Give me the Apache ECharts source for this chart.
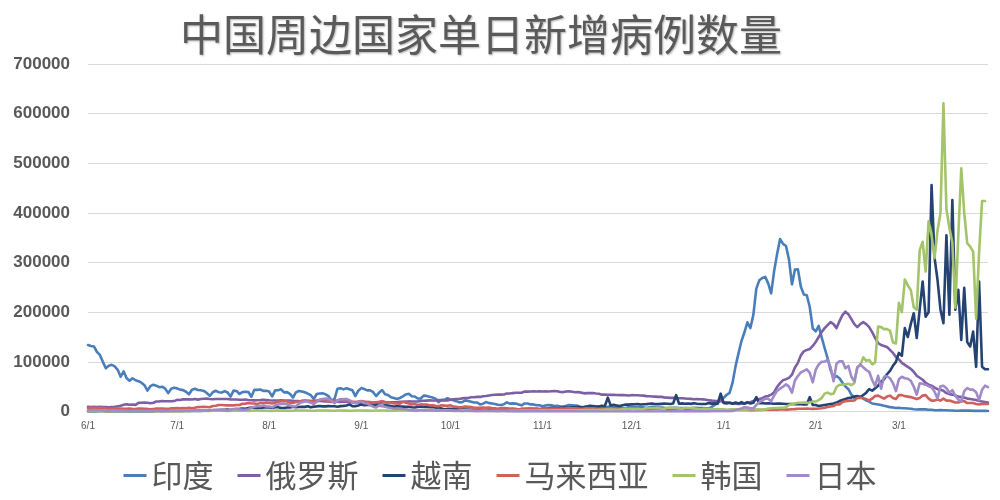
<!DOCTYPE html>
<html><head><meta charset="utf-8">
<script src="https://cdn.jsdelivr.net/npm/echarts@6/dist/echarts.min.js"></script>
<style>html,body{margin:0;padding:0;background:#fff}#c{width:1000px;height:500px}</style>
</head><body><div id="c"></div>
<script>
const titleText = '中国周边国家单日新增病例数量';
const startDate = [2021, 6, 1];
const tickLabels = ['6/1','7/1','8/1','9/1','10/1','11/1','12/1','1/1','2/1','3/1'];
const seriesNames = ['印度','俄罗斯','越南','马来西亚','韩国','日本'];
const yTicks = [0,100000,200000,300000,400000,500000,600000,700000];

const india = [
134000,132000,131000,120000,114000,100000,87000,92000,94000,91000,84000,70000,81000,67000,62000,67000,63000,61000,58000,53000,42000,51000,54000,52000,49000,50000,46000,37000,46000,48000,
46600,44100,43100,39800,34700,43700,45900,43400,42800,41500,37200,31400,38800,41800,38900,38100,41200,38200,30100,42000,41400,35300,39000,39700,39300,29700,43600,43500,44200,41600,41800,
40100,30500,42600,42900,44600,38600,39000,35500,28200,38400,41200,40100,38700,36000,32900,25200,35200,36400,36600,34500,30900,22000,25500,46000,47000,44600,46800,45000,42900,30900,41900,
47100,45400,42600,42800,38900,31200,37900,43300,34900,33400,28600,27300,25400,27200,30600,34400,35700,30800,30300,26100,26100,31900,31400,29600,28300,26000,18800,23500,23500,26700,
24400,22800,20800,18300,18800,22400,21300,19700,18200,18100,14300,15800,19000,16900,16000,15000,13600,13100,14600,18500,15800,16300,15900,14300,12400,16200,16200,14300,14300,12800,12500,
10400,11900,12900,12700,10900,11500,10100,10100,11500,13100,12500,11900,11300,8900,8900,10200,11900,11100,10300,10500,8500,7600,9300,10500,9100,8300,8800,6900,6600,8900,
9800,9200,8600,8300,8300,6800,8400,9400,8500,7900,7800,7300,5800,6900,7400,7400,7100,7100,6600,5300,6300,7500,7500,6700,6900,6500,6400,9200,13200,16800,22800,
27500,33700,37400,58100,90900,117100,141900,159600,179700,168100,194700,247400,264200,268800,271200,258100,238000,282900,317500,347300,337700,333500,306100,255900,285900,286400,251200,235500,234300,209900,167100,
161400,172400,149400,127900,107500,83900,67600,71400,67100,58000,50400,44900,34100,27400,30600,30800,25900,22300,19900,16100,15100,14100,13200,11500,10300,8800,8000,6900,
7500,6600,6400,5900,5500,4400,3900,4600,4200,4200,3600,3600,2500,2600,2900,2500,2500,2100,2000,1500,1600,1800,1900,1700,1700,1300,1300,1300,1200,1200,1100
];
const russia = [
9300,8900,9300,9200,9300,9100,9000,8700,9000,9400,10400,11700,13500,14700,13700,14200,13400,17300,17600,17900,17600,16700,17600,20200,20400,21000,20500,20500,20600,21000,
23500,23200,24400,24400,24400,24200,25100,23900,25300,25800,25900,25100,24700,25100,25300,25200,25100,25100,24400,24300,24300,23800,23700,24100,23300,22700,22400,22800,23200,23800,23300,
22600,22100,22100,21900,22600,21900,22100,22200,21500,20800,20800,21000,22000,21600,21300,20900,21100,21000,20800,20300,20600,20000,19600,19600,19300,19900,19900,18900,18300,18600,18300,
18100,18800,18600,17800,17900,17700,17400,18000,18100,18000,18300,18600,18600,19700,19600,19900,20300,20100,20200,20200,21400,21600,22000,22500,22200,22400,23100,22400,22800,22400,
23600,24500,25100,25100,26400,27200,27200,28600,28700,29400,29400,30800,31300,32200,33200,33700,34300,34000,34400,36300,36300,37100,37700,37900,37900,40100,40100,40300,40900,40300,40900,
40400,40500,40200,40700,41300,40700,39400,39100,40200,40800,39900,38800,39300,38000,36600,37100,37100,37200,36300,35700,33900,34100,33800,33500,33400,33100,32900,33100,32600,32100,
32900,32800,32700,32100,32000,31000,30800,30300,29900,29500,29400,28500,27900,27400,27400,27000,26800,26800,26200,25700,25500,24700,24900,24700,24500,23600,22800,21900,21400,21300,21100,
19300,18400,17600,16400,15700,15400,15900,15800,17500,18800,21000,23800,25100,26800,30100,31300,33900,38800,49500,57200,63200,65100,67800,74100,88800,98000,113100,121200,124000,125800,132000,
140000,150000,160000,168000,174000,180000,176000,168000,182000,194000,201000,196000,186000,176000,170000,176000,180000,176000,170000,160000,148000,138000,134000,132000,130000,124000,118000,110000,
105000,98000,94000,90000,86000,80000,72000,68000,64000,58000,54000,52000,48000,45000,44000,42000,37000,35000,34000,32000,30000,29000,28000,26000,25000,24000,23000,21000,20000,19000,18000
];
const vietnam = [
200,200,300,300,400,500,200,300,300,400,300,300,300,300,200,300,300,400,300,300,200,200,300,500,400,300,400,500,500,800,
600,800,800,1000,1000,1000,1100,1200,1300,1400,1600,1700,1900,2300,2900,3300,3400,3900,3000,4000,5000,5300,5900,5400,6800,7900,7300,6600,7800,7900,8600,
7900,7300,8600,8600,7200,7000,8200,8000,9700,8700,9000,9700,9300,10700,8400,9800,10300,11200,10400,10300,10900,10700,10500,9700,10800,11300,12100,14200,10700,10700,12000,
14300,12800,13000,13700,12500,13500,11900,11000,12500,11900,11200,9500,10800,9800,10100,9500,9700,8700,8000,9000,9900,9400,9400,8700,8500,7900,7500,6000,4600,5200,
5400,4800,4300,5100,4200,4000,4000,3600,3600,3500,3200,3500,4000,3100,3600,3200,3000,3300,3600,3600,3500,3800,4100,4200,3600,4400,5200,5600,5000,5400,4900,
5500,5900,6300,7400,7200,6000,7400,8100,8200,8000,8600,9000,9100,8700,9000,10000,10300,10400,9700,9900,11400,10500,27900,11900,13400,12200,11100,12700,13800,13900,
14500,14600,14900,14100,14700,14800,15500,16200,14800,14900,15400,15800,15600,15000,16100,33000,15700,16300,15700,16000,15400,16700,15600,15000,15100,15100,16900,15900,16400,15700,36000,
17000,16000,17500,15500,18000,16000,19000,16000,18500,16000,17500,29000,16500,17000,16000,16500,16000,15500,16000,15800,15500,15000,15200,15000,14800,14500,14500,14000,14000,29000,13000,
13000,11000,12000,13000,14000,15000,16000,18000,21000,23000,25000,27000,28000,30000,31000,28000,33000,38000,45000,42000,47000,52000,60000,65000,75000,82000,92000,100000,
118000,112000,168000,150000,176000,198000,148000,205000,262000,191000,200000,456000,310000,265000,205000,178000,355000,195000,426000,205000,245000,144000,249000,140000,131000,161000,90000,262000,90000,85000,85000
];
const malaysia = [
7100,7700,7300,7500,7700,6800,6200,5600,5600,6000,5700,6100,5300,5400,5900,5400,5100,5900,5800,5300,5200,4600,5200,5800,6000,5800,5600,5200,6400,6300,
6900,6600,6700,6600,7700,6400,7700,8900,9200,9400,9100,8600,11100,11600,13200,13200,12500,12400,12400,12300,13000,13000,15600,15900,17000,16000,16100,14900,17400,17200,17800,
17100,16100,17800,19800,20900,20600,20600,17200,17200,19100,19300,21700,21500,20900,20900,20700,22200,22900,23600,22900,20600,19300,21200,22900,24600,22100,22600,20600,19300,19300,20000,
20900,20000,19300,19000,17400,18500,19700,21200,19300,18500,18200,16100,16100,15700,19500,17600,16100,14300,15100,13100,14300,14200,13900,12400,12400,11300,10600,12400,11900,11400,
12700,9800,9400,8100,8800,9900,9400,8800,7400,7300,7500,7900,7400,8000,6800,6600,5700,6800,7200,6700,5800,5700,5400,4200,5700,5700,5700,5900,6100,5600,4500,
4500,5400,5400,6000,5900,5600,5800,5700,6300,6400,6200,6500,5800,4900,6100,6400,5900,6600,6000,5200,4800,5400,5500,5500,5800,5100,4600,4200,5000,5400,
5400,5500,5300,4900,4100,4000,4300,5000,5500,4400,3900,3400,3500,4300,3600,3900,3800,3100,3400,3100,3800,3000,2500,2700,3400,3200,3600,3400,3100,3300,3400,
3400,2900,2900,3400,3400,3200,3500,3300,3100,2800,2600,3000,3300,3100,3600,3400,3700,3500,3700,4100,4700,3700,3900,4500,4800,5400,5400,5500,5800,5400,5300,
5500,5900,6600,7500,9100,10100,11000,14800,14300,19300,20900,21100,22000,22100,27100,27800,26800,25000,22200,25800,31200,32000,29000,26000,30000,32000,27000,25000,
33000,33000,31000,30000,29000,27000,25000,27000,32000,33000,26000,22000,22000,24000,22000,26000,22000,22000,20000,18000,18000,20000,21000,17000,17000,17000,15000,14000,15000,15700,15000
];
const korea = [
450,680,680,690,740,560,480,460,600,610,550,450,560,450,400,540,550,510,480,430,360,390,650,610,630,670,610,500,590,760,
830,790,820,740,710,1210,1280,1270,1320,1380,1100,1150,1610,1600,1540,1600,1450,1250,1270,1780,1840,1630,1630,1490,1320,1370,1890,1900,1670,1710,1540,
1210,1220,1720,1770,1700,1820,1720,1490,1540,2220,1990,1990,1930,1820,1550,1370,1800,2150,2050,2050,1880,1420,1510,2150,1880,1840,1790,1620,1480,2020,1960,
1960,1710,1800,1490,1370,2050,2050,2040,1890,1750,1430,1490,2080,2070,1940,1910,1600,1430,1730,1460,2430,2430,3270,2770,2380,2290,2880,2560,2490,2560,
2080,1670,1630,2030,2430,2420,2180,1950,1590,1300,1420,1950,1930,1620,1600,1460,1040,1420,1570,1440,1510,1410,1250,1270,1710,1950,1950,2110,2120,2100,1680,
2230,1910,1920,2340,2230,2340,2250,2430,2580,2520,2360,2420,2210,2520,3170,3030,3030,3320,3120,3210,2830,4120,3940,4110,3920,3310,3310,5120,5270,5120,
5260,4940,5350,4320,4950,7180,7020,7010,6980,6680,5810,5560,7850,7620,7430,7310,6230,5310,7450,7450,6910,6230,5410,4210,5200,5410,5010,5030,3860,4860,4420,
3830,3120,3920,4450,4110,3710,3510,3000,4380,4540,4540,4180,4070,3860,4200,5800,6600,7000,7000,7620,7500,8570,13010,14520,16100,17510,17520,18000,17000,18300,20000,
20000,23000,27000,36000,38000,35000,36000,49500,54000,54000,55000,56000,53000,57000,90000,93000,109000,102000,104000,95000,99000,171000,170000,166000,166000,163000,139000,137000,
219000,200000,266000,254000,245000,210000,205000,325000,342000,282000,383000,355000,309000,364000,400000,621000,408000,370000,340000,209000,354000,490000,400000,339000,332000,322000,187000,320000,424000,424000,null
];
const japan = [
2600,2400,3000,2700,2600,2200,1600,1600,2200,2300,2000,1900,1900,1400,1000,1400,1700,1600,1400,1200,1100,1400,1600,1800,1700,1500,1300,1100,1600,1800,
1800,1700,1600,1400,1200,1800,2200,2200,2200,2000,1500,2000,3200,3200,3400,3000,2300,1500,3800,5000,5400,4200,3600,3500,4700,7600,9600,10700,10700,12300,10100,
10200,8400,12000,14200,15300,15800,14500,12100,10100,10600,15800,18800,20300,20100,17800,14900,19800,23900,25100,25900,25400,21400,16800,21600,24300,24900,25300,22800,19200,16600,20000,
20000,16700,16100,13000,9800,8100,12400,11000,9700,8000,7200,5400,6100,5800,5100,4600,3500,2800,2100,1800,3200,2200,2400,2100,2000,1500,1600,2200,1900,1600,
1500,1300,1100,900,700,1000,1200,900,800,600,400,600,600,600,500,400,300,400,400,300,300,300,300,300,200,200,300,300,300,300,200,
100,100,200,200,200,200,100,200,200,200,200,200,100,100,100,100,100,200,100,100,100,100,100,100,100,100,100,100,100,200,
100,100,200,100,100,100,200,100,100,100,200,200,100,100,200,200,200,200,200,300,300,300,300,300,400,300,300,500,500,500,500,
500,600,800,1300,2600,4500,6200,8500,8200,6400,6400,13200,18900,22000,25700,25700,20700,32200,41500,46200,49900,54600,50200,38000,62600,71600,78900,81800,84900,78000,58800,
84200,94900,100000,100600,104000,89000,61000,96600,100900,101200,87000,91700,70000,61000,88000,94900,89000,83600,80000,63500,51000,71900,45900,70000,71000,67000,57000,41000,
65000,70000,67000,66000,62000,50000,34000,57000,56000,54000,51000,49000,40000,26000,51000,52000,47000,38000,43000,32000,24000,20000,41000,47000,44000,44000,39000,23000,44000,52000,49000
];

function buildCategories(n) {
  const out = [];
  const d = new Date(startDate[0], startDate[1] - 1, startDate[2]);
  for (let i = 0; i < n; i++) {
    out.push((d.getMonth() + 1) + '/' + d.getDate());
    d.setDate(d.getDate() + 1);
  }
  return out;
}
const categories = buildCategories(india.length);
const seriesData = [india, russia, vietnam, malaysia, korea, japan];
const colors = ['#4a7ebb', '#7d5fa5', '#254372', '#d0605c', '#a3c46a', '#a08ac8'];

const chart = echarts.init(document.getElementById('c'), null, {renderer: 'canvas'});
chart.setOption({
  animation: false,
  backgroundColor: '#ffffff',
  color: colors,
  title: {
    text: titleText,
    left: 175, top: 8,
    textStyle: {
      fontFamily: 'Noto Sans CJK SC', fontSize: 43, fontWeight: 'normal', color: '#5a5a5a',
      textShadowColor: 'rgba(0,0,0,0.3)', textShadowBlur: 2, textShadowOffsetX: 1, textShadowOffsetY: 1
    }
  },
  legend: {
    data: seriesNames,
    left: 'center', top: 455,
    icon: 'rect', itemWidth: 23, itemHeight: 3, itemGap: 24,
    textStyle: {fontFamily: 'Noto Sans CJK SC', fontSize: 31, color: '#595959', padding: [0,0,0,0]}
  },
  grid: {left: 88, right: 12, top: 64, bottom: 88.5, containLabel: false, outerBoundsMode: 'none'},
  xAxis: {
    type: 'category', data: categories, boundaryGap: false,
    axisLine: {show: true, lineStyle: {color: '#d9d9d9', width: 1}},
    axisTick: {show: false},
    axisLabel: {
      interval: function (i, v) { return tickLabels.indexOf(v) >= 0; },
      fontFamily: 'Liberation Sans', fontSize: 10, color: '#595959', margin: 10
    },
    splitLine: {show: false}
  },
  yAxis: {
    type: 'value', min: yTicks[0], max: yTicks[yTicks.length - 1], interval: 100000,
    axisLine: {show: false}, axisTick: {show: false},
    axisLabel: {
      formatter: function (v) { return String(v); },
      fontFamily: 'Liberation Sans', fontSize: 17, fontWeight: 'bold', color: '#595959', margin: 18
    },
    splitLine: {lineStyle: {color: '#d9d9d9', width: 1}}
  },
  series: seriesNames.map(function (name, i) {
    return {
      name: name, type: 'line', data: seriesData[i],
      showSymbol: false, symbol: 'none', smooth: false, connectNulls: false,
      lineStyle: {width: 2.6, color: colors[i], cap: 'round', join: 'round'},
      itemStyle: {color: colors[i]},
      emphasis: {disabled: true}
    };
  })
});
</script>
</body></html>
